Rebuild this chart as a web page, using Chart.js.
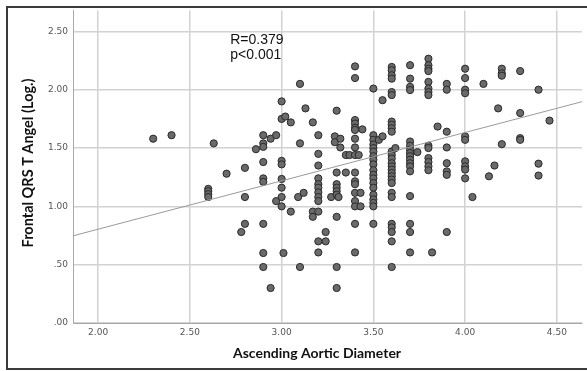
<!DOCTYPE html>
<html>
<head>
<meta charset="utf-8">
<script src="https://cdn.jsdelivr.net/npm/chart.js@4.4.0/dist/chart.umd.min.js"></script>
<style>
  body { margin: 0; background: #fff; }
  #wrap { width: 587px; height: 371px; }
</style>
</head>
<body>
<div id="wrap"><canvas id="scatter" width="587" height="371"></canvas></div>
<script>
// x values (ascending aortic diameter), one line per column of points
const diameter = [
  2.30, 2.40, 2.60, 2.60, 2.60, 2.60, 2.63, 2.70, 2.78, 2.80, 2.80, 2.80, 2.86,
  2.90, 2.90, 2.90, 2.90, 2.90, 2.90, 2.90, 2.90, 2.90, 2.94, 2.94, 2.97, 2.97,
  3.00, 3.00, 3.00, 3.00, 3.00, 3.00, 3.00, 3.00, 3.01, 3.02, 3.05, 3.05,
  3.09, 3.10, 3.10, 3.10, 3.12, 3.13, 3.17, 3.17, 3.17,
  3.20, 3.20, 3.20, 3.20, 3.20, 3.20, 3.20, 3.20, 3.20, 3.20, 3.20, 3.20,
  3.24, 3.24, 3.27, 3.29, 3.29, 3.30, 3.30, 3.30, 3.30, 3.30, 3.30, 3.30, 3.30, 3.30, 3.31, 3.32, 3.32,
  3.35, 3.35, 3.37, 3.40, 3.40, 3.40, 3.40, 3.40, 3.40, 3.40, 3.40, 3.40, 3.40, 3.40, 3.40, 3.40, 3.40, 3.40, 3.40, 3.40, 3.42, 3.43, 3.43, 3.44,
  3.50, 3.50, 3.50, 3.50, 3.50, 3.50, 3.50, 3.50, 3.50, 3.50, 3.50, 3.50, 3.50, 3.50, 3.50, 3.50, 3.50, 3.50, 3.50, 3.53, 3.55, 3.55,
  3.60, 3.60, 3.60, 3.60, 3.60, 3.60, 3.60, 3.60, 3.60, 3.60, 3.60, 3.60, 3.60, 3.60, 3.60, 3.60, 3.60, 3.60, 3.60, 3.60, 3.60, 3.60, 3.60, 3.60, 3.60, 3.60, 3.60, 3.62,
  3.70, 3.70, 3.70, 3.70, 3.70, 3.70, 3.70, 3.70, 3.70, 3.70, 3.70, 3.70, 3.70, 3.70, 3.70, 3.70, 3.70, 3.74,
  3.80, 3.80, 3.80, 3.80, 3.80, 3.80, 3.80, 3.80, 3.80, 3.80, 3.80, 3.80, 3.80, 3.80, 3.82, 3.85,
  3.90, 3.90, 3.90, 3.90, 3.90, 3.90, 3.90, 3.90,
  4.00, 4.00, 4.00, 4.00, 4.00, 4.00, 4.00, 4.00, 4.00, 4.00, 4.04,
  4.10, 4.13, 4.16, 4.18, 4.20, 4.20, 4.20, 4.20, 4.30, 4.30, 4.30, 4.30, 4.40, 4.40, 4.40, 4.46
];

// y values (frontal QRS-T angle, log), same layout as diameter
const qrsAngle = [
  1.58, 1.61, 1.15, 1.13, 1.105, 1.08, 1.54, 1.28, 0.78, 1.33, 1.08, 0.85, 1.49,
  1.61, 1.54, 1.51, 1.38, 1.24, 1.21, 0.85, 0.60, 0.48, 1.58, 0.30, 1.61, 1.045,
  1.90, 1.75, 1.39, 1.36, 1.235, 1.16, 1.08, 1.00, 0.60, 1.77, 1.72, 0.955,
  1.08, 2.05, 1.54, 0.48, 1.116, 1.84, 1.72, 0.955, 0.91,
  1.61, 1.45, 1.35, 1.24, 1.19, 1.16, 1.12, 1.08, 1.045, 0.955, 0.70, 0.605,
  0.78, 0.70, 1.08, 1.60, 1.55, 1.82, 1.29, 1.19, 1.16, 1.13, 1.10, 0.91, 0.48, 0.30, 1.08, 1.58, 1.505,
  1.29, 1.44, 1.44, 2.20, 2.10, 1.74, 1.71, 1.675, 1.655, 1.58, 1.505, 1.44, 1.29, 1.215, 1.19, 1.116, 1.045, 1.00, 0.85, 0.605, 1.44, 1.116, 1.00, 1.66,
  2.01, 1.61, 1.57, 1.53, 1.50, 1.47, 1.43, 1.40, 1.36, 1.31, 1.27, 1.24, 1.20, 1.16, 1.10, 1.06, 1.03, 1.00, 0.85, 1.57, 1.91, 1.60,
  2.195, 2.167, 2.124, 2.095, 1.98, 1.954, 1.727, 1.70, 1.67, 1.64, 1.47, 1.44, 1.41, 1.37, 1.343, 1.315, 1.286, 1.258, 1.23, 1.20, 1.116, 1.08, 0.85, 0.82, 0.78, 0.70, 0.48, 1.50,
  2.21, 2.095, 2.025, 1.997, 1.556, 1.52, 1.486, 1.457, 1.43, 1.40, 1.37, 1.343, 1.30, 1.088, 0.85, 0.78, 0.605, 1.465,
  2.266, 2.21, 2.18, 2.16, 2.067, 2.01, 1.98, 1.954, 1.52, 1.50, 1.414, 1.38, 1.343, 1.31, 0.605, 1.684,
  2.05, 2.00, 1.64, 1.505, 1.37, 1.30, 1.27, 0.78,
  2.18, 2.10, 2.00, 1.97, 1.60, 1.57, 1.386, 1.343, 1.315, 1.24, 1.08,
  2.05, 1.258, 1.35, 1.84, 2.18, 2.14, 2.12, 1.533, 2.16, 1.80, 1.585, 1.57, 2.00, 1.366, 1.264, 1.735
];

const xTicks = [2.0, 2.5, 3.0, 3.5, 4.0, 4.5];
const yTicks = [0, 0.5, 1.0, 1.5, 2.0, 2.5];
const xRange = [1.863, 4.637];
const yRange = [0, 2.68];

// fit line
const fitSlope = 0.4146;
const fitIntercept = -0.025;

const points = diameter.map((d, i) => ({ x: d, y: qrsAngle[i] }));
const fitLine = xRange.map(v => ({ x: v, y: fitSlope * v + fitIntercept }));

const decor = {
  id: 'decor',
  beforeDraw(chart) {
    const ctx = chart.ctx;
    ctx.save();
    ctx.fillStyle = '#fff';
    ctx.fillRect(0, 0, chart.width, chart.height);
    ctx.restore();
  },
  afterDraw(chart) {
    const { ctx, scales: { x, y } } = chart;
    ctx.save();
    ctx.strokeStyle = '#3a3a3a';
    ctx.lineWidth = 2;
    ctx.strokeRect(7, 7, 581, 362);

    ctx.fillStyle = '#111';
    ctx.textAlign = 'center';
    ctx.textBaseline = 'middle';
    ctx.font = 'bold 14px Lato';
    ctx.fillText('Ascending Aortic Diameter', 317, 353);

    ctx.save();
    ctx.translate(28, 163);
    ctx.rotate(-Math.PI / 2);
    ctx.font = 'bold 14.5px Lato';
    ctx.fillText('Frontal QRS T Angel (Log.)', 0, 0);
    ctx.restore();

    ctx.textAlign = 'left';
    ctx.font = '14px "Liberation Sans"';
    ctx.fillText('R=0.379', x.getPixelForValue(2.72), y.getPixelForValue(2.425));
    ctx.fillText('p<0.001', x.getPixelForValue(2.72), y.getPixelForValue(2.297));
    ctx.restore();
  }
};

const tickFont = { family: 'DejaVu Sans', size: 9 };

new Chart(document.getElementById('scatter'), {
  type: 'scatter',
  data: {
    datasets: [
      {
        data: fitLine,
        showLine: true,
        borderColor: '#9a9a9a',
        borderWidth: 1,
        pointRadius: 0
      },
      {
        data: points,
        pointRadius: 3.6,
        backgroundColor: '#6a6a6a',
        borderColor: '#2a2a2a',
        borderWidth: 1
      }
    ]
  },
  options: {
    responsive: false,
    animation: false,
    layout: { padding: { top: 8, right: 5, left: 0, bottom: 0 } },
    plugins: { legend: { display: false }, tooltip: { enabled: false } },
    scales: {
      x: {
        type: 'linear',
        min: xRange[0],
        max: xRange[1],
        afterBuildTicks: s => { s.ticks = xTicks.map(v => ({ value: v })); },
        afterFit: s => { s.height = 48; },
        ticks: {
          font: tickFont,
          color: '#555',
          padding: 4,
          maxRotation: 0,
          callback: v => v.toFixed(2)
        },
        grid: { color: '#d2d2d2', lineWidth: 1.5, drawTicks: false },
        border: { color: '#a8a8a8', width: 1 }
      },
      y: {
        type: 'linear',
        min: yRange[0],
        max: yRange[1],
        afterBuildTicks: s => { s.ticks = yTicks.map(v => ({ value: v })); },
        afterFit: s => { s.width = 73; },
        ticks: {
          font: tickFont,
          color: '#555',
          padding: 5,
          callback: v => v.toFixed(2).replace(/^0/, '')
        },
        grid: { color: '#d2d2d2', lineWidth: 1.5, drawTicks: false },
        border: { color: '#a8a8a8', width: 1 }
      }
    }
  },
  plugins: [decor]
});
</script>
</body>
</html>
